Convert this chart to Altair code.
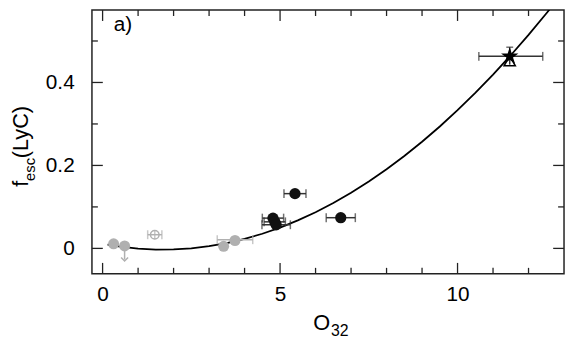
import altair as alt
import pandas as pd

# ---- data ----
curve_x = [0.14, 0.5, 1.0, 1.5, 2.0, 2.5, 3.0, 3.5, 4.0, 4.5, 5.0, 5.5, 6.0, 6.5,
           7.0, 7.5, 8.0, 8.5, 9.0, 9.5, 10.0, 10.5, 11.0, 11.5, 12.0, 12.5, 12.75]
curve_y = [0.0089, 0.0040, -0.0006, -0.0028, -0.0026, 0.0001, 0.0052, 0.0128, 0.0228,
           0.0353, 0.0501, 0.0675, 0.0872, 0.1094, 0.1341, 0.1612, 0.1907, 0.2226,
           0.2571, 0.2939, 0.3332, 0.3749, 0.4191, 0.4657, 0.5147, 0.5662, 0.5929]

blk_x = [5.42, 6.71, 4.80, 4.85, 4.89]
blk_y = [0.132, 0.074, 0.073, 0.064, 0.057]
blk_xerr = [0.31, 0.41, 0.30, 0.30, 0.40]

gray_x = [0.31, 0.62, 3.41, 3.73]
gray_y = [0.011, 0.006, 0.005, 0.019]
gray_err_x = [3.73]
gray_err_y = [0.021]
gray_err = [0.5]

lim_x = [0.62]
lim_y = [0.006]
lim_to = [-0.027]

open_x = [1.47]
open_y = [0.033]
open_xerr = [0.2]

star_x = [11.47]
star_y = [0.463]
star_xlo = [10.6]
star_xhi = [12.4]
star_ylo = [0.443]
star_yhi = [0.485]
tri_y = [0.452]

x_major = [0, 5, 10]
x_minor = [1, 2, 3, 4, 6, 7, 8, 9, 11, 12]
y_major = [0, 0.2, 0.4]
y_minor = [0.1, 0.3, 0.5]

W, H = 478, 267
FONT = "Liberation Sans"
DARK = "#222222"
GRAY = "#b0b0b0"

xs = alt.Scale(domain=[-0.3, 13], nice=False, zero=False)
ys = alt.Scale(domain=[-0.0612, 0.5745], nice=False, zero=False)
xax = alt.Axis(values=x_major, grid=False, ticks=False, tickSize=0, domain=False,
               labelFontSize=21, labelFont=FONT, labelColor="black", labelPadding=10,
               title=None, format="d")
yax = alt.Axis(values=y_major, grid=False, ticks=False, tickSize=0, domain=False,
               labelFontSize=21, labelFont=FONT, labelColor="black", labelPadding=18,
               title=None,
               labelExpr="datum.value == 0 ? '0' : format(datum.value, '.1f')")


def X(f):
    return alt.X(f, type="quantitative", scale=xs, axis=xax)


def Y(f):
    return alt.Y(f, type="quantitative", scale=ys, axis=yax)


curve_df = pd.DataFrame({"x": curve_x, "y": curve_y})
blk_df = pd.DataFrame({"x": blk_x, "y": blk_y, "lo": [a - e for a, e in zip(blk_x, blk_xerr)],
                       "hi": [a + e for a, e in zip(blk_x, blk_xerr)]})
gray_df = pd.DataFrame({"x": gray_x, "y": gray_y})
gerr_df = pd.DataFrame({"x": gray_err_x, "y": gray_err_y,
                        "lo": [a - e for a, e in zip(gray_err_x, gray_err)],
                        "hi": [a + e for a, e in zip(gray_err_x, gray_err)]})
lim_df = pd.DataFrame({"x": lim_x, "y": lim_y, "to": lim_to})
open_df = pd.DataFrame({"x": open_x, "y": open_y,
                        "lo": [a - e for a, e in zip(open_x, open_xerr)],
                        "hi": [a + e for a, e in zip(open_x, open_xerr)]})
star_df = pd.DataFrame({"x": star_x, "y": star_y, "xlo": star_xlo, "xhi": star_xhi,
                        "ylo": star_ylo, "yhi": star_yhi, "ty": tri_y})

curve = alt.Chart(curve_df).mark_line(color="black", strokeWidth=1.8, clip=True).encode(
    x=X("x"), y=Y("y"))


def xerr(df, color):
    bar = alt.Chart(df).mark_rule(color=color, strokeWidth=1.5).encode(
        x=X("lo"), x2="hi", y=Y("y"))
    c1 = alt.Chart(df).mark_tick(color=color, orient="vertical", size=9, thickness=1.5).encode(
        x=X("lo"), y=Y("y"))
    c2 = alt.Chart(df).mark_tick(color=color, orient="vertical", size=9, thickness=1.5).encode(
        x=X("hi"), y=Y("y"))
    return [bar, c1, c2]


gerr_layers = xerr(gerr_df, GRAY)
open_layers = xerr(open_df, GRAY)
blk_layers = xerr(blk_df, "#333333")

gray_pts = alt.Chart(gray_df).mark_circle(size=125, color=GRAY, opacity=1).encode(
    x=X("x"), y=Y("y"))
lim_rule = alt.Chart(lim_df).mark_rule(color=GRAY, strokeWidth=1.5).encode(
    x=X("x"), y=Y("y"), y2="to")
lim_head = alt.Chart(lim_df).mark_point(shape="M-1,-0.6L0,0.4L1,-0.6", filled=False,
                                        color=GRAY, strokeWidth=1.5, size=50, opacity=1).encode(
    x=X("x"), y=Y("to"))
open_pt = alt.Chart(open_df).mark_point(shape="circle", filled=False, color=GRAY,
                                        strokeWidth=1.5, size=75, opacity=1).encode(
    x=X("x"), y=Y("y"))
open_v = alt.Chart(open_df).mark_tick(color=GRAY, orient="vertical", size=9, thickness=1.5).encode(
    x=X("x"), y=Y("y"))

blk_pts = alt.Chart(blk_df).mark_circle(size=130, color="#111111", opacity=1).encode(
    x=X("x"), y=Y("y"))

star_xbar = alt.Chart(star_df).mark_rule(color="#333333", strokeWidth=1.5).encode(
    x=X("xlo"), x2="xhi", y=Y("y"))
star_c1 = alt.Chart(star_df).mark_tick(color="#333333", orient="vertical", size=9, thickness=1.5).encode(
    x=X("xlo"), y=Y("y"))
star_c2 = alt.Chart(star_df).mark_tick(color="#333333", orient="vertical", size=9, thickness=1.5).encode(
    x=X("xhi"), y=Y("y"))
star_ybar = alt.Chart(star_df).mark_rule(color="#333333", strokeWidth=1.5).encode(
    x=X("x"), y=Y("ylo"), y2="yhi")
star_yc = alt.Chart(star_df).mark_tick(color="#333333", orient="horizontal", size=7, thickness=1.5).encode(
    x=X("x"), y=Y("yhi"))
tri = alt.Chart(star_df).mark_point(shape="triangle-up", filled=False, color="black",
                                    strokeWidth=1.5, size=130, opacity=1).encode(
    x=X("x"), y=Y("ty"))
STAR = ("M0,-1L0.2245,-0.309L0.951,-0.309L0.363,0.118L0.588,0.809L0,0.382"
        "L-0.588,0.809L-0.363,0.118L-0.951,-0.309L-0.2245,-0.309Z")
star = alt.Chart(star_df).mark_point(shape=STAR, filled=True, color="black", size=340,
                                     opacity=1).encode(x=X("x"), y=Y("y"))

# ---- inward ticks on all four sides ----
xM = pd.DataFrame({"v": x_major})
xm = pd.DataFrame({"v": x_minor})
yM = pd.DataFrame({"v": y_major})
ym = pd.DataFrame({"v": y_minor})
tick_layers = []
for df, L in ((xM, 11), (xm, 6)):
    tick_layers.append(alt.Chart(df).mark_rule(color=DARK, strokeWidth=1.3).encode(
        x=X("v"), y=alt.value(H), y2=alt.value(H - L)))
    tick_layers.append(alt.Chart(df).mark_rule(color=DARK, strokeWidth=1.3).encode(
        x=X("v"), y=alt.value(0), y2=alt.value(L)))
for df, L in ((yM, 11), (ym, 6)):
    tick_layers.append(alt.Chart(df).mark_rule(color=DARK, strokeWidth=1.3).encode(
        y=Y("v"), x=alt.value(0), x2=alt.value(L)))
    tick_layers.append(alt.Chart(df).mark_rule(color=DARK, strokeWidth=1.3).encode(
        y=Y("v"), x=alt.value(W), x2=alt.value(W - L)))

# ---- texts ----
one = pd.DataFrame({"k": [0]})


def txt(s, x, y, size, angle=0, align="left"):
    kw = dict(align=align, baseline="alphabetic", fontSize=size, font=FONT, color="black")
    if angle:
        kw["angle"] = angle
    return alt.Chart(one).mark_text(**kw).encode(
        x=alt.value(x), y=alt.value(y), text=alt.value(s))


texts = [
    txt("a)", 22, 21, 21),
    txt("O", 224, 324, 22),
    txt("32", 242, 330, 16),
    txt("f", -65, 179, 22, angle=270),
    txt("esc", -58, 173, 15, angle=270),
    txt("(LyC)", -65, 150, 22, angle=270),
]

chart = alt.layer(
    curve, *gerr_layers, gray_pts, lim_rule, lim_head, *open_layers, open_v, open_pt,
    *blk_layers, blk_pts, star_xbar, star_c1, star_c2, star_ybar, star_yc, tri, star,
    *tick_layers, *texts
).properties(
    width=W, height=H, autosize="none",
    padding={"left": 85, "top": 0, "right": 2, "bottom": 70},
).configure_view(stroke=DARK, strokeWidth=1.5)

chart.save("out.html", embed_options={"renderer": "svg", "actions": False})
